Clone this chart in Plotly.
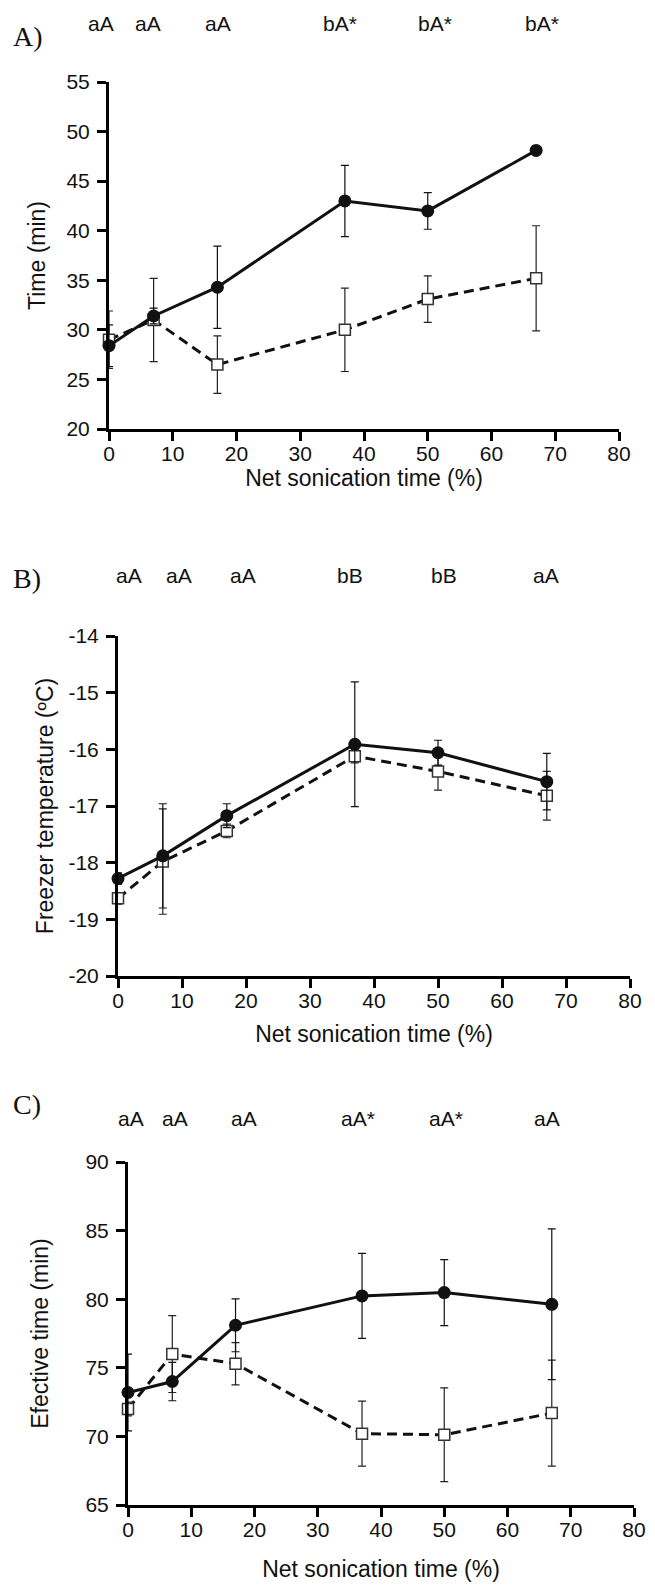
import plotly.graph_objects as go

# ---------------- data ----------------
x_vals = [0, 7, 17, 37, 50, 67]

a_solid = [28.4, 31.4, 34.3, 43.0, 42.0, 48.1]
a_solid_sd = [2.1, 0.8, 4.15, 3.6, 1.85, 0.3]
a_open = [29.0, 31.0, 26.5, 30.0, 33.1, 35.2]
a_open_sd = [2.9, 4.2, 2.9, 4.2, 2.35, 5.3]

b_solid = [-18.28, -17.88, -17.17, -15.91, -16.06, -16.57]
b_solid_sd = [0.1, 0.92, 0.21, 1.1, 0.22, 0.5]
b_open = [-18.63, -17.98, -17.44, -16.12, -16.39, -16.82]
b_open_sd = [0.1, 0.93, 0.12, 0.12, 0.33, 0.43]

c_solid = [73.2, 74.0, 78.1, 80.24, 80.48, 79.63]
c_solid_sd = [2.8, 1.4, 1.93, 3.1, 2.41, 5.49]
c_open = [72.0, 76.0, 75.3, 70.2, 70.12, 71.7]
c_open_sd = [0.5, 2.8, 1.54, 2.37, 3.42, 3.86]

a_letters = ["aA", "aA", "aA", "bA*", "bA*", "bA*"]
b_letters = ["aA", "aA", "aA", "bB", "bB", "aA"]
c_letters = ["aA", "aA", "aA", "aA*", "aA*", "aA"]
a_letter_x = [-1.2, 6.1, 17.1, 36.2, 51.1, 67.9]
b_letter_x = [1.7, 9.6, 19.6, 36.3, 51.0, 66.8]
c_letter_x = [0.4, 7.4, 18.3, 36.4, 50.2, 66.2]

x_ticks = [0, 10, 20, 30, 40, 50, 60, 70, 80]
a_ticks = [20, 25, 30, 35, 40, 45, 50, 55]
b_ticks = [-20, -19, -18, -17, -16, -15, -14]
b_tick_text = ["-20", "-19", "-18", "-17", "-16", "-15", "-14"]
c_ticks = [65, 70, 75, 80, 85, 90]

x_title = "Net sonication time (%)"
a_title = "Time (min)"
b_title = "Freezer temperature (ºC)"
c_title = "Efective time (min)"

# ---------------- layout helpers ----------------
W, H = 655, 1585
def pxx(p):
    return p / W
def pyy(p):
    return 1 - p / H

FONT = "Arial, Liberation Sans, Helvetica, sans-serif"
SERIF = "Times New Roman, Liberation Serif, serif"
INK = "#111111"

fig = go.Figure()

panels = [
    dict(sx="x", sy="y", solid=a_solid, solid_sd=a_solid_sd, open=a_open, open_sd=a_open_sd),
    dict(sx="x2", sy="y2", solid=b_solid, solid_sd=b_solid_sd, open=b_open, open_sd=b_open_sd),
    dict(sx="x3", sy="y3", solid=c_solid, solid_sd=c_solid_sd, open=c_open, open_sd=c_open_sd),
]

for p in panels:
    fig.add_trace(go.Scatter(
        x=x_vals, y=p["open"], xaxis=p["sx"], yaxis=p["sy"],
        mode="lines+markers",
        line=dict(color=INK, width=3, dash="10px,6px"),
        marker=dict(symbol="square", size=11, color="white",
                    line=dict(color="#333333", width=1.5)),
        error_y=dict(type="data", array=p["open_sd"], visible=True,
                     color="#222222", thickness=1.2, width=4),
        cliponaxis=False, showlegend=False))
    fig.add_trace(go.Scatter(
        x=x_vals, y=p["solid"], xaxis=p["sx"], yaxis=p["sy"],
        mode="lines+markers",
        line=dict(color=INK, width=3),
        marker=dict(symbol="circle", size=13, color=INK),
        error_y=dict(type="data", array=p["solid_sd"], visible=True,
                     color=INK, thickness=1.2, width=4),
        cliponaxis=False, showlegend=False))

axis_common = dict(showline=True, linewidth=3, linecolor="black",
                   ticks="outside", ticklen=9, tickwidth=3, tickcolor="black",
                   showgrid=False, zeroline=False, automargin=False,
                   tickfont=dict(family=FONT, size=21, color=INK))

# pixel boxes of the three plot areas: (left, right, top, bottom)
boxA = (109, 619, 82, 429)
boxB = (118, 630, 636, 976)
boxC = (128, 634, 1162, 1505)

def xax(box, anchor, standoff):
    return dict(axis_common, domain=[pxx(box[0]), pxx(box[1])], range=[0, 80],
                tickvals=x_ticks, anchor=anchor, ticklabelstandoff=-5,
                title=dict(text=x_title, font=dict(family=FONT, size=23, color=INK),
                           standoff=standoff))

def yax(box, anchor, rng, ticks, title, standoff, ticktext=None):
    d = dict(axis_common, domain=[pyy(box[3]), pyy(box[2])], range=rng,
             tickvals=ticks, anchor=anchor, ticklabelstandoff=3,
             title=dict(text=title, font=dict(family=FONT, size=23, color=INK),
                        standoff=standoff))
    if ticktext is not None:
        d["ticktext"] = ticktext
    return d

fig.update_layout(
    width=W, height=H,
    margin=dict(l=0, r=0, t=0, b=0, autoexpand=False),
    paper_bgcolor="white", plot_bgcolor="white",
    xaxis=xax(boxA, "y", 3),
    yaxis=yax(boxA, "x", [20, 55], a_ticks, a_title, 15),
    xaxis2=xax(boxB, "y2", 15),
    yaxis2=yax(boxB, "x2", [-20, -14], b_ticks, b_title, 9, b_tick_text),
    xaxis3=xax(boxC, "y3", 21),
    yaxis3=yax(boxC, "x3", [65, 90], c_ticks, c_title, 31),
)

def data_to_paper_x(box, xv):
    return pxx(box[0] + (box[1] - box[0]) * xv / 80.0)

annotations = []
for letters, lx, box, ypix in [(a_letters, a_letter_x, boxA, 23),
                               (b_letters, b_letter_x, boxB, 575),
                               (c_letters, c_letter_x, boxC, 1118)]:
    for t, xv in zip(letters, lx):
        annotations.append(dict(text=t, x=data_to_paper_x(box, xv), xref="paper",
                                y=pyy(ypix), yref="paper",
                                showarrow=False, xanchor="center", yanchor="middle",
                                font=dict(family=FONT, size=21, color=INK)))

for t, ypix in [("A)", 36), ("B)", 578), ("C)", 1104)]:
    annotations.append(dict(text=t, x=pxx(11), xref="paper", y=pyy(ypix), yref="paper",
                            showarrow=False, xanchor="left", yanchor="middle",
                            font=dict(family=SERIF, size=28, color=INK)))

fig.update_layout(annotations=annotations)

fig.write_html("out.html",
               config={"displayModeBar": False},
               post_script="document.body.style.margin='0px';document.body.style.padding='0px';")
